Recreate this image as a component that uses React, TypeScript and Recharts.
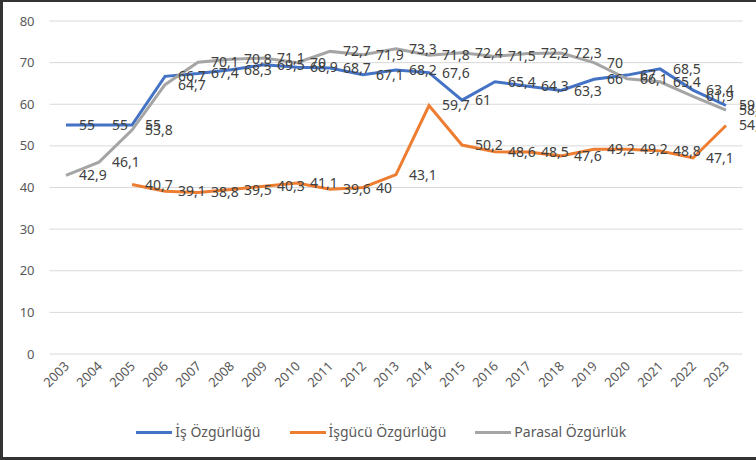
import React from 'react';
import { LineChart, Line, XAxis, YAxis, CartesianGrid, Legend, LabelList } from 'recharts';

const years = [
  '2003', '2004', '2005', '2006', '2007', '2008', '2009', '2010', '2011', '2012', '2013',
  '2014', '2015', '2016', '2017', '2018', '2019', '2020', '2021', '2022', '2023',
];
const isOzgurlugu = [
  55, 55, 55, 66.7, 67.4, 68.3, 69.5, 68.9, 68.7, 67.1, 68.2,
  67.6, 61, 65.4, 64.3, 63.3, 66, 67, 68.5, 63.4, 59.7,
];
const isgucuOzgurlugu = [
  null, null, 40.7, 39.1, 38.8, 39.5, 40.3, 41.1, 39.6, 40, 43.1,
  59.7, 50.2, 48.6, 48.5, 47.6, 49.2, 49.2, 48.8, 47.1, 54.9,
];
const parasalOzgurluk = [
  42.9, 46.1, 53.8, 64.7, 70.1, 70.8, 71.1, 70, 72.7, 71.9, 73.3,
  71.8, 72.4, 71.5, 72.2, 72.3, 70, 66.1, 65.4, 61.9, 58.6,
];
const yTicks = [0, 10, 20, 30, 40, 50, 60, 70, 80];

const series = [
  { key: 'is', name: 'İş Özgürlüğü', color: '#4472C4' },
  { key: 'isgucu', name: 'İşgücü Özgürlüğü', color: '#ED7D31' },
  { key: 'parasal', name: 'Parasal Özgürlük', color: '#A5A5A5' },
];

const data = years.map((year, i) => ({
  year,
  is: isOzgurlugu[i],
  isgucu: isgucuOzgurlugu[i],
  parasal: parasalOzgurluk[i],
}));

const FONT = '"Noto Sans", "Liberation Sans", sans-serif';

const fmt = (v: number) => String(v).replace('.', ',');

const RightLabel = (props: any) => {
  const { x, y, value } = props;
  if (value == null) return null;
  return (
    <text x={x + 13} y={y} dy={5} fontSize={14} fill="#404040" fontFamily={FONT} textAnchor="start">
      {fmt(value)}
    </text>
  );
};

const YearTick = (props: any) => {
  const { x, payload } = props;
  const ax = x + 4;
  const ay = 367;
  return (
    <text x={ax} y={ay} transform={`rotate(-45 ${ax} ${ay})`} textAnchor="end" fontSize={13} fill="#595959" fontFamily={FONT}>
      {payload.value}
    </text>
  );
};

const LegendBox = () => (
  <div style={{ display: 'flex', justifyContent: 'center', gap: 29, paddingLeft: 20, fontFamily: FONT, fontSize: 14, color: '#595959', lineHeight: '16px' }}>
    {series.map((s) => (
      <div key={s.key} style={{ display: 'flex', alignItems: 'center' }}>
        <span style={{ display: 'inline-block', width: 36, height: 3, background: s.color, marginRight: 3 }} />
        <span>{s.name}</span>
      </div>
    ))}
  </div>
);

export default function App() {
  return (
    <div style={{ position: 'absolute', left: 0, top: 0, width: 756, height: 460, background: '#fff' }}>
      <LineChart width={756} height={460} data={data} margin={{ top: 21, right: 13.5, left: 0, bottom: 0 }}>
        <CartesianGrid vertical={false} stroke="#D9D9D9" />
        <XAxis
          dataKey="year"
          axisLine={false}
          tickLine={false}
          interval={0}
          height={70}
          padding={{ left: 16.5, right: 16.5 }}
          tick={<YearTick />}
        />
        <YAxis
          domain={[0, 80]}
          ticks={yTicks}
          width={49.5}
          axisLine={false}
          tickLine={false}
          tickSize={0}
          tickMargin={15}
          tick={{ fontSize: 13, fill: '#595959', fontFamily: FONT }}
        />
        <Legend verticalAlign="bottom" height={36} content={<LegendBox />} />
        {series.map((s) => (
          <Line
            key={s.key}
            type="linear"
            dataKey={s.key}
            name={s.name}
            stroke={s.color}
            strokeWidth={3}
            dot={false}
            isAnimationActive={false}
          >
            <LabelList dataKey={s.key} content={<RightLabel />} />
          </Line>
        ))}
      </LineChart>
      <div style={{ position: 'absolute', left: 0, top: 0, width: 756, height: 460, boxSizing: 'border-box', borderLeft: '3px solid #333', borderTop: '2px solid #333', borderBottom: '3px solid #333', pointerEvents: 'none' }} />
    </div>
  );
}
